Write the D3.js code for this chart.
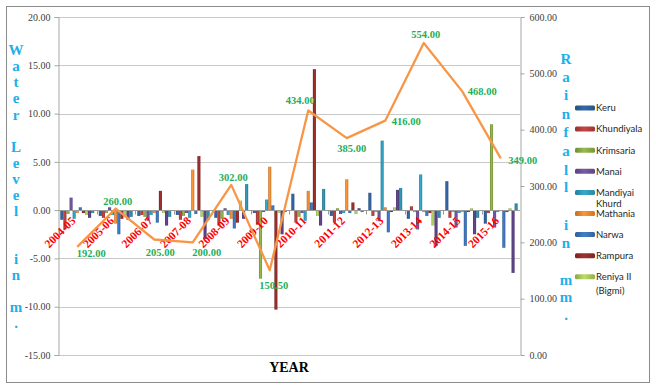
<!DOCTYPE html>
<html>
<head>
<meta charset="utf-8">
<script src="https://cdn.jsdelivr.net/npm/d3@7"></script>
<style>
  html, body { margin: 0; padding: 0; background: #fff; }
  svg { display: block; }
</style>
</head>
<body>
<div id="chart"></div>
<script>
// Monsoon rainfall (mm) and change in well water level (m), 2004-05 to 2015-16
const years = ["2004-05","2005-06","2006-07","2007-08","2008-09","2009-10",
               "2010-11","2011-12","2012-13","2013-14","2014-15","2015-16"];

const rainfall = [192.00, 260.00, 205.00, 200.00, 302.00, 150.50,
                  434.00, 385.00, 416.00, 554.00, 468.00, 349.00];

// legend names of the observation wells
const wellNames = ["Keru", "Khundiyala", "Krimsaria", "Manai", "Mandiyai Khurd",
                   "Mathania", "Narwa", "Rampura", "Reniya II (Bigmi)"];

// water level change per well, one value per year
const keru        = [-1.0, -0.6, -0.6, -0.5, -0.8, -0.3,  1.7, -0.6,  1.8, -0.9,  3.0, -1.4];
const khundiyala  = [-2.0, -0.8, -0.5, -1.0, -1.6, -1.5, -1.3, -1.3, -0.6,  0.4, -0.8, -0.3];
const krimsaria   = [-0.4, -0.3, -0.7, -0.6, -0.9, -7.1, -0.7,  0.2, -0.2, -0.2, -0.2,  8.9];
const manai       = [ 1.3,  0.3, -1.1, -0.3,  0.2, -0.2, -0.3, -0.4, -1.1, -2.0, -1.8, -1.8];
const mandiyai    = [-0.9, -0.5, -0.5, -0.8, -0.5,  1.1, -1.1, -0.3,  7.2,  3.7, -0.3, -0.2];
const mathania    = [-0.3, -1.4, -0.3,  4.2, -0.9,  4.5,  2.0,  3.2,  0.3, -0.2, -0.2, -0.1];
const narwa       = [ 0.3, -2.5, -1.3, -0.4, -1.9,  0.5,  0.8, -0.3, -2.3, -0.6, -3.7, -3.9];
const rampura     = [-0.3, -0.9,  2.0,  5.6, -1.3,-10.3, 14.6,  0.8, -0.2, -0.3, -0.2, -0.2];
const reniya      = [-0.5, -0.5, -0.3, -0.7,  1.0, -0.3, -0.6, -0.4,  0.3, -1.6,  0.2,  0.2];
// two further wells are plotted but carry no legend entry
const wellTen     = [-0.8, -1.0, -1.6, -3.0, -0.9, -2.5, -1.6,  0.2,  2.1, -3.7, -2.5, -6.5];
const wellEleven  = [-0.3, -0.7, -0.7, -1.0,  2.7, -0.2,  2.2, -0.2,  2.3, -0.8, -0.8,  0.7];

const waterLevel = [keru, khundiyala, krimsaria, manai, mandiyai, mathania,
                    narwa, rampura, reniya, wellTen, wellEleven];

const levelTicks = [-15, -10, -5, 0, 5, 10, 15, 20];
const rainTicks  = [0, 100, 200, 300, 400, 500, 600];

const colors = ["#2f5d96", "#b03c3a", "#86a544", "#6a4f94", "#2f96b3", "#e0842f",
                "#3a6fb3", "#8e2b29", "#a4c35a", "#573f7e", "#2b879f"];

const W = 656, H = 389;
const plot = { left: 58, right: 520, top: 17, bottom: 355 };

const svg = d3.select("#chart").append("svg")
  .attr("width", W).attr("height", H)
  .attr("font-family", "'Liberation Serif', serif");

// chart frame
svg.append("rect").attr("x", 6.5).attr("y", 6.5).attr("width", 643).attr("height", 376)
  .attr("fill", "#fff").attr("stroke", "#8c8c8c").attr("stroke-width", 1);

const yL = d3.scaleLinear().domain([-15, 20]).range([plot.bottom, plot.top]);
const yR = d3.scaleLinear().domain([0, 600]).range([plot.bottom, plot.top]);
const x = d3.scaleBand().domain(years).range([plot.left, plot.right]).padding(0);
const xs = d3.scaleBand().domain(d3.range(waterLevel.length))
  .range([0, x.bandwidth()]).paddingInner(0).paddingOuter(0.75);

// horizontal gridlines
svg.append("g").selectAll("line").data(levelTicks.filter(d => d !== 0)).join("line")
  .attr("x1", plot.left).attr("x2", plot.right)
  .attr("y1", d => Math.round(yL(d)) + 0.5).attr("y2", d => Math.round(yL(d)) + 0.5)
  .attr("stroke", "#c9c9c9").attr("stroke-width", 1);

// gradients giving the bars a rounded look
const defs = svg.append("defs");
colors.forEach((c, i) => {
  const g = defs.append("linearGradient").attr("id", "bar" + i)
    .attr("x1", "0").attr("x2", "1").attr("y1", "0").attr("y2", "0");
  g.append("stop").attr("offset", "0").attr("stop-color", d3.color(c).darker(0.5));
  g.append("stop").attr("offset", "0.45").attr("stop-color", d3.color(c).brighter(0.35));
  g.append("stop").attr("offset", "1").attr("stop-color", d3.color(c).darker(0.3));
});

// clustered bars
const groups = svg.append("g").selectAll("g").data(years).join("g")
  .attr("transform", d => `translate(${x(d)},0)`);
groups.selectAll("rect")
  .data((yr, j) => waterLevel.map((s, i) => ({ i, v: s[j] })))
  .join("rect")
  .attr("x", d => xs(d.i))
  .attr("width", xs.bandwidth())
  .attr("y", d => yL(Math.max(0, d.v)))
  .attr("height", d => Math.abs(yL(d.v) - yL(0)))
  .attr("fill", d => `url(#bar${d.i})`);

// category axis along zero
const zeroY = Math.round(yL(0)) + 0.5;
svg.append("line").attr("x1", plot.left).attr("x2", plot.right)
  .attr("y1", zeroY).attr("y2", zeroY).attr("stroke", "#9a9a9a");
svg.append("g").selectAll("line").data(years.slice(1)).join("line")
  .attr("x1", d => Math.round(x(d)) + 0.5).attr("x2", d => Math.round(x(d)) + 0.5)
  .attr("y1", zeroY).attr("y2", zeroY + 4).attr("stroke", "#9a9a9a");

// left axis
const axL = svg.append("g").attr("transform", `translate(${plot.left + 0.5},0)`)
  .call(d3.axisLeft(yL).tickValues(levelTicks).tickFormat(d => d.toFixed(2)).tickSize(4).tickPadding(4));
// right axis
const axR = svg.append("g").attr("transform", `translate(${plot.right + 0.5},0)`)
  .call(d3.axisRight(yR).tickValues(rainTicks).tickFormat(d => d.toFixed(2)).tickSize(4).tickPadding(5));
[axL, axR].forEach(a => {
  a.select(".domain").attr("stroke", "#a6a6a6");
  a.selectAll(".tick line").attr("stroke", "#a6a6a6");
  a.selectAll(".tick text").attr("fill", "#404040")
    .attr("font-family", "'Liberation Serif', serif").attr("font-size", 10);
});

// category labels
svg.append("g").selectAll("text").data(years).join("text")
  .attr("transform", d => `translate(${x(d) + x.bandwidth() / 2 - 1},${zeroY + 11}) rotate(-45)`)
  .attr("text-anchor", "end")
  .attr("fill", "#ff0000").attr("font-weight", "bold").attr("font-size", 11.5)
  .text(d => d);

// rainfall line
const cx = d => x(d) + x.bandwidth() / 2;
svg.append("path").datum(rainfall)
  .attr("fill", "none").attr("stroke", "#f79646").attr("stroke-width", 2.3)
  .attr("stroke-linejoin", "round")
  .attr("d", d3.line().x((v, j) => cx(years[j])).y(v => yR(v)));

// rainfall value labels, offsets of each label centre from its point
const labelOffsets = [[14, 6], [2, -7], [6, 13], [14, 10], [2, -8], [4, 15],
                      [-8, -10], [5, 10], [21, 1], [2, -9], [20, 0], [22, 2]];
svg.append("g").selectAll("text").data(rainfall).join("text")
  .attr("x", (v, j) => cx(years[j]) + labelOffsets[j][0])
  .attr("y", (v, j) => yR(v) + labelOffsets[j][1])
  .attr("dy", "0.35em").attr("text-anchor", "middle")
  .attr("fill", "#1fae55").attr("font-weight", "bold").attr("font-size", 10.5)
  .text(v => v.toFixed(2));

// stacked axis titles
const titleColor = "#1cb0ea";
const leftTitle = [["W",50],["a",66],["t",82],["e",98],["r",115],
                   ["L",147],["e",163],["v",179],["e",195],["l",211],
                   ["i",259],["n",275],["m",307],[".",323]];
const rightTitle = [["R",59],["a",77],["i",95],["n",114],["f",132],["a",151],["l",170],["l",187],
                    ["i",225],["n",243],["m",280],["m",297],[".",315]];
svg.append("g").selectAll("text").data(leftTitle).join("text")
  .attr("x", 16).attr("y", d => d[1]).attr("dy", "0.35em").attr("text-anchor", "middle")
  .attr("fill", titleColor).attr("font-weight", "bold").attr("font-size", 15).text(d => d[0]);
svg.append("g").selectAll("text").data(rightTitle).join("text")
  .attr("x", 566).attr("y", d => d[1]).attr("dy", "0.35em").attr("text-anchor", "middle")
  .attr("fill", titleColor).attr("font-weight", "bold").attr("font-size", 15).text(d => d[0]);

svg.append("text").attr("x", (plot.left + plot.right) / 2).attr("y", 367)
  .attr("dy", "0.35em").attr("text-anchor", "middle")
  .attr("font-weight", "bold").attr("font-size", 14).attr("fill", "#000").text("YEAR");

// legend
const legendLines = ["Keru", "Khundiyala", "Krimsaria", "Manai", ["Mandiyai", "Khurd"],
                     "Mathania", "Narwa", "Rampura", ["Reniya II", "(Bigmi)"]];
const leg = svg.append("g").selectAll("g").data(wellNames).join("g")
  .attr("transform", (d, i) => `translate(575,${108 + i * 21.1})`);
leg.append("rect").attr("x", 0).attr("y", -2.5).attr("width", 20).attr("height", 5).attr("rx", 1.5)
  .attr("fill", (d, i) => `url(#bar${i})`);
leg.each(function (d, i) {
  const lines = [].concat(legendLines[i]);
  const lineGap = i === 4 ? 11 : 14;
  d3.select(this).selectAll("text").data(lines).join("text")
    .attr("x", 21).attr("y", (t, k) => k * lineGap).attr("dy", "0.35em")
    .attr("font-family", "Lato, sans-serif").attr("font-size", 9.5).attr("fill", "#262626")
    .text(t => t);
});
</script>
</body>
</html>
